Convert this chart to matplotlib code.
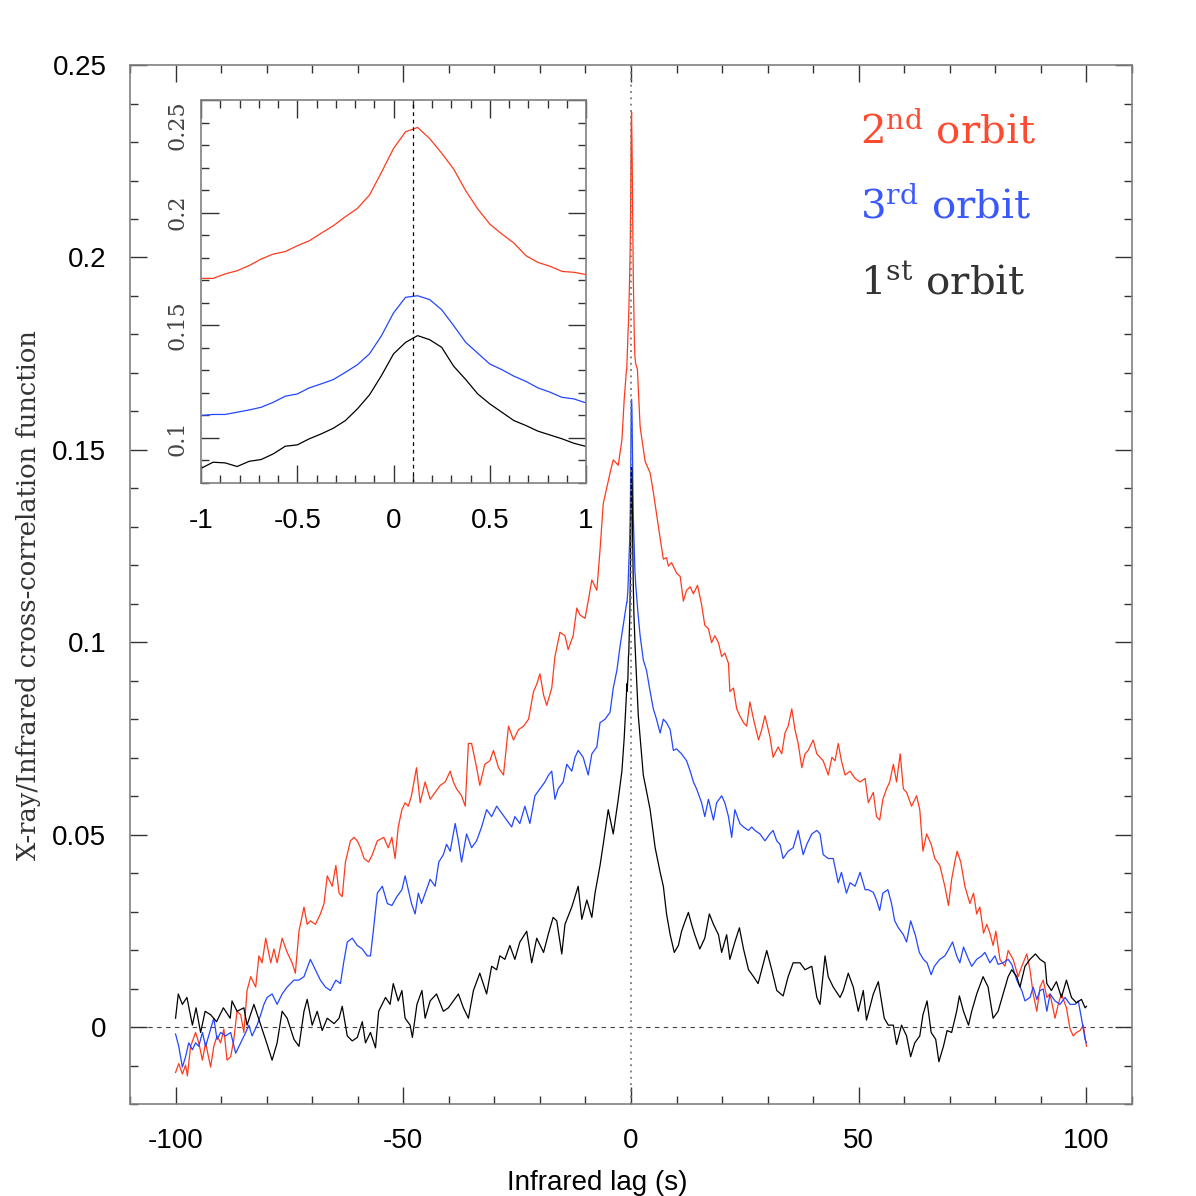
import matplotlib
matplotlib.use('Agg')
import matplotlib.pyplot as plt
from matplotlib.ticker import MultipleLocator, FuncFormatter

plt.rcParams['font.family'] = ['Liberation Sans', 'DejaVu Sans']
plt.rcParams['mathtext.fontset'] = 'dejavuserif'
plt.rcParams['axes.unicode_minus'] = False

# fine-resolution lags around the peak (also shown in the inset)
INSET_LAG = [-1, -0.9375, -0.875, -0.8125, -0.75, -0.6875, -0.625, -0.5625, -0.5,
             -0.4375, -0.375, -0.3125, -0.25, -0.1875, -0.125, -0.0625, 0, 0.0625,
             0.125, 0.1875, 0.25, 0.3125, 0.375, 0.4375, 0.5, 0.5625, 0.625, 0.6875,
             0.75, 0.8125, 0.875, 0.9375, 1]
RED_PEAK = [0.1708, 0.1708, 0.1728, 0.1742, 0.1765, 0.1794, 0.1816, 0.1827, 0.1853,
            0.1875, 0.1909, 0.1942, 0.1982, 0.2019, 0.2078, 0.2179, 0.2285, 0.2359,
            0.2378, 0.2329, 0.2264, 0.2193, 0.2097, 0.2016, 0.1949, 0.1905, 0.1865,
            0.1809, 0.1779, 0.1762, 0.1739, 0.1735, 0.1725]
BLUE_PEAK = [0.1099, 0.1104, 0.1104, 0.1114, 0.1124, 0.1136, 0.1158, 0.1185, 0.1195,
             0.1222, 0.124, 0.1259, 0.1291, 0.1325, 0.1373, 0.1454, 0.1555, 0.1624,
             0.1631, 0.1614, 0.1569, 0.1498, 0.1424, 0.1376, 0.1328, 0.1303, 0.1274,
             0.1251, 0.1222, 0.1203, 0.118, 0.1173, 0.1155]
BLACK_PEAK = [0.0865, 0.0892, 0.0889, 0.0873, 0.0896, 0.0904, 0.0929, 0.0963, 0.0969,
              0.0996, 0.1018, 0.1043, 0.1077, 0.1129, 0.1191, 0.1277, 0.1373, 0.1424,
              0.1454, 0.1436, 0.1402, 0.1318, 0.1259, 0.1195, 0.1151, 0.1114, 0.1077,
              0.1055, 0.103, 0.1013, 0.0996, 0.0976, 0.0962]

# 1st orbit (black)
BLACK_LAG_NEG = [-100, -99.4, -98.5, -97.5, -96.3, -95.5, -94.5, -93.5, -92.3, -91,
                 -89.5, -88, -87.6, -86.5, -85, -84.3, -82.8, -81.3, -80, -78.8,
                 -77.7, -76.6, -75.5, -74, -72.9, -71.8, -71.1, -70, -68.9, -67.8,
                 -66.7, -65.2, -64.1, -63.4, -62.3, -61.2, -60.1, -59, -58.3, -57.2,
                 -56.1, -55.4, -53.9, -52.9, -52.2, -51.1, -50.3, -49.6, -48.5, -48,
                 -47, -45.9, -45.2, -44.1, -42.7, -41.2, -40.1, -39, -37.9, -36.8,
                 -35.7, -34.6, -33.2, -31.7, -30.6, -29.5, -28.8, -27.7, -26.6, -25.5,
                 -24.4, -22.9, -21.8, -20.7, -19.2, -18.1, -17.1, -16.3, -15.2, -14.5,
                 -13, -11.6, -10.8, -9.7, -8.6, -7.9, -6.8, -6.1, -5, -3.9,
                 -2.8, -2, -1.5]
BLACK_NEG = [0.0023, 0.0086, 0.0059, 0.0077, 0.0005, 0.005, -0.0014, 0.0041, 0.0032, 0.0014,
             0.005, 0.0023, 0.0068, 0.0041, 0.005, 0.0005, 0.0059, 0.0005, -0.0041, -0.0086,
             -0.0041, 0.0041, 0.0023, -0.0032, -0.005, 0.0041, 0.0072, 0.0005, 0.0041, -0.0009,
             0.0023, 0.0009, 0.0023, 0.0054, -0.0023, -0.0036, -0.0027, 0.0014, -0.0041, -0.0014,
             -0.0054, 0.0041, 0.0077, 0.0059, 0.0113, 0.0068, 0.0095, 0.0023, 0.0005, -0.0027,
             0.0059, 0.0095, 0.0023, 0.0068, 0.0086, 0.0041, 0.005, 0.0068, 0.0086, 0.005,
             0.0023, 0.0095, 0.014, 0.0086, 0.0158, 0.0149, 0.0185, 0.0176, 0.0212, 0.0176,
             0.0221, 0.0249, 0.0167, 0.0231, 0.0194, 0.0244, 0.0285, 0.0276, 0.019, 0.0267,
             0.0312, 0.0366, 0.028, 0.033, 0.0285, 0.0348, 0.042, 0.0475, 0.0565, 0.0502,
             0.0592, 0.0665, 0.075]
BLACK_LAG_POS = [1.6, 2.7, 4.2, 5.3, 6.4, 7.1, 7.8, 8.6, 9.5, 10.4,
                 11.1, 11.9, 12.6, 13.3, 14, 15.1, 16.2, 17.2, 18.1, 19.2,
                 19.9, 21, 21.7, 22.8, 23.8, 24.7, 25.8, 26.9, 27.9, 28.7,
                 29.8, 30.9, 32, 33.4, 34.5, 35.6, 37.1, 38.2, 39.7, 40.8,
                 41.5, 42.6, 43.3, 44.4, 45.9, 46.6, 47.7, 48.8, 49.9, 51,
                 51.7, 53.2, 54.3, 55.6, 56.5, 57.6, 58.3, 59.4, 60.5, 61.4,
                 62.3, 63.4, 64.1, 65, 65.9, 66.9, 67.6, 68.6, 69.4, 70.4,
                 71.5, 72.1, 73, 74.1, 74.8, 75.9, 77.3, 78.4, 79.5, 80.6,
                 81.7, 82.8, 83.6, 84.7, 85.4, 86.5, 87.6, 88.8, 89.8, 90.9,
                 91.3, 92.3, 93.4, 94.5, 95.6, 96.7, 97.8, 98.9, 99.7, 100]
BLACK_POS = [0.0809, 0.0655, 0.0565, 0.0466, 0.0402, 0.0366, 0.0294, 0.024, 0.0194, 0.0212,
             0.0249, 0.0276, 0.0298, 0.0267, 0.024, 0.0203, 0.0231, 0.0294, 0.0267, 0.024,
             0.0194, 0.024, 0.0176, 0.0221, 0.0258, 0.0203, 0.0149, 0.0131, 0.0113, 0.0149,
             0.0199, 0.0149, 0.0095, 0.0081, 0.0131, 0.0167, 0.0167, 0.0149, 0.0158, 0.0077,
             0.0059, 0.0185, 0.0131, 0.0104, 0.0077, 0.0095, 0.014, 0.0104, 0.0041, 0.0095,
             0.0018, 0.0086, 0.0118, 0.0023, 0.0005, 0.0005, -0.0045, 0.0005, -0.0023, -0.0077,
             -0.0041, -0.0023, 0.0032, 0.0068, -0.0014, -0.0032, -0.009, -0.005, -0.0009, -0.0014,
             0.0041, 0.0081, 0.0041, 0.0005, 0.0041, 0.0086, 0.0131, 0.0104, 0.0023, 0.0041,
             0.0086, 0.0131, 0.0149, 0.0131, 0.0104, 0.0158, 0.0176, 0.019, 0.0176, 0.0167,
             0.0113, 0.0095, 0.0118, 0.0077, 0.0122, 0.0077, 0.0063, 0.0072, 0.005, 0.0054]

# 2nd orbit (red)
RED_LAG_NEG = [-100, -99.3, -98.5, -97.8, -97.4, -96.7, -95.6, -94.9, -94.1, -93.4,
               -92.3, -91.6, -90.9, -90.1, -89.4, -88.7, -87.9, -87.2, -86.5, -85.7,
               -85, -84.3, -83.5, -82.4, -81.7, -81, -80.2, -79.1, -78.4, -77.7,
               -76.6, -75.5, -74.4, -73.7, -72.9, -71.8, -71.1, -70.4, -69.3, -68.2,
               -67.4, -66.7, -65.6, -64.8, -64.1, -63.4, -62.7, -61.6, -60.8, -60.1,
               -59.4, -58.6, -57.6, -56.8, -55.7, -54.3, -53.3, -52.5, -51.8, -51.1,
               -50.3, -49.6, -48.9, -48.2, -47.1, -46.3, -45.2, -44.1, -43, -41.9,
               -40.8, -39.7, -39, -38.3, -37.2, -36.4, -35.7, -35, -33.9, -33.2,
               -32.1, -31, -30.2, -29.1, -28, -26.9, -25.8, -24.7, -23.6, -22.5,
               -21.4, -20.7, -20, -19.2, -18.5, -17.4, -16.7, -15.6, -14.5, -13.8,
               -12.7, -11.9, -11.2, -10.1, -9.4, -8.6, -7.5, -6.8, -6.1, -4.6,
               -3.9, -2.8, -2, -1.5]
RED_NEG = [-0.0118, -0.0095, -0.0122, -0.0099, -0.0127, -0.005, -0.0014, -0.0041, -0.0086, -0.0041,
           -0.0104, -0.005, -0.0023, -0.0041, -0.0005, -0.0086, -0.0077, -0.0032, 0.0041, 0.0032,
           -0.0014, 0.0095, 0.0131, 0.0104, 0.0185, 0.0167, 0.0231, 0.0167, 0.0203, 0.0167,
           0.0231, 0.0194, 0.0167, 0.014, 0.0249, 0.0312, 0.0267, 0.0276, 0.0267, 0.0294,
           0.0321, 0.0393, 0.0366, 0.042, 0.0348, 0.0339, 0.0429, 0.0484, 0.0493, 0.0484,
           0.0466, 0.0438, 0.0429, 0.0448, 0.0484, 0.0493, 0.0466, 0.0493, 0.0438, 0.052,
           0.0565, 0.0583, 0.0574, 0.0601, 0.0674, 0.0583, 0.0637, 0.0592, 0.061, 0.0628,
           0.0637, 0.0665, 0.0637, 0.0619, 0.0601, 0.0574, 0.0737, 0.0737, 0.0674, 0.0628,
           0.0683, 0.0692, 0.0719, 0.0674, 0.0655, 0.0782, 0.0746, 0.0773, 0.0782, 0.08,
           0.0872, 0.0891, 0.0918, 0.0863, 0.0836, 0.0881, 0.0963, 0.1026, 0.1017, 0.0981,
           0.1017, 0.1089, 0.1071, 0.1062, 0.1107, 0.1162, 0.1135, 0.124, 0.136, 0.144,
           0.1474, 0.146, 0.1526, 0.163]
RED_LAG_POS = [1.4, 2, 3.1, 4.2, 4.9, 6.4, 7.1, 7.8, 8.2, 8.9,
               10, 10.8, 11.5, 12.2, 13, 13.7, 14.6, 15.5, 16.2, 17,
               17.7, 18.4, 19.2, 19.9, 20.6, 21.4, 21.7, 22.5, 23.2, 23.9,
               24.7, 25.4, 26.1, 26.9, 28, 28.7, 29.4, 30.5, 31.2, 32.3,
               33.1, 33.8, 34.5, 35.3, 36, 36.7, 37.5, 38.2, 38.9, 40,
               40.8, 41.5, 42.2, 43.3, 44.1, 44.8, 45.5, 46.2, 47, 48.1,
               49.2, 50.3, 51.4, 52.1, 53.2, 53.9, 54.6, 55.3, 56.1, 56.8,
               57.6, 58.3, 59.1, 59.8, 60.5, 61.6, 62.7, 63.4, 64.1, 64.9,
               65.9, 66.7, 67.8, 68.9, 69.7, 70.4, 71.1, 71.6, 72.4, 73.3,
               74.4, 75.2, 75.9, 76.6, 77.4, 78.1, 78.8, 79.5, 80.1, 81,
               82.1, 82.8, 83.9, 85, 85.8, 86.9, 87.6, 88.3, 89.1, 89.8,
               90.5, 91.3, 92, 93.1, 93.8, 94.5, 95.6, 96.4, 97.1, 97.8,
               98.6, 99.3, 100]
RED_POS = [0.171, 0.156, 0.147, 0.144, 0.139, 0.127, 0.1216, 0.122, 0.1198, 0.1207,
           0.118, 0.1171, 0.1107, 0.1135, 0.1144, 0.1126, 0.1148, 0.1098, 0.1044, 0.1035,
           0.0999, 0.1017, 0.0999, 0.0963, 0.0972, 0.0945, 0.0872, 0.0881, 0.0827, 0.0809,
           0.0791, 0.0782, 0.0845, 0.08, 0.0746, 0.0773, 0.0809, 0.0755, 0.0701, 0.0728,
           0.071, 0.0764, 0.0782, 0.0827, 0.0773, 0.0737, 0.0674, 0.071, 0.0719, 0.0746,
           0.071, 0.0701, 0.0692, 0.0655, 0.0701, 0.0692, 0.0737, 0.0692, 0.0655, 0.0665,
           0.0646, 0.0637, 0.0646, 0.0583, 0.061, 0.0547, 0.0538, 0.0592, 0.0619, 0.0637,
           0.0683, 0.0637, 0.071, 0.0619, 0.061, 0.0574, 0.0601, 0.0565, 0.0457, 0.0502,
           0.0475, 0.0438, 0.042, 0.0366, 0.0316, 0.0384, 0.0429, 0.0457, 0.0429, 0.0366,
           0.0321, 0.0348, 0.0294, 0.0312, 0.0244, 0.0267, 0.0244, 0.0212, 0.0249, 0.0176,
           0.0158, 0.0199, 0.0176, 0.0131, 0.0158, 0.019, 0.0149, 0.0086, 0.0041, 0.0104,
           0.0122, 0.0077, 0.0086, 0.0023, 0.0059, 0.0086, 0.005, -0.0005, -0.0023, -0.0014,
           -0.0009, 0.0005, -0.005]

# 3rd orbit (blue)
BLUE_LAG_NEG = [-100, -99.3, -98.5, -97.8, -97.1, -96.3, -95.6, -94.9, -94.1, -93.4,
                -92.3, -91.6, -90.9, -90.1, -89, -87.9, -86.8, -85.7, -84.6, -83.9,
                -83.2, -82.1, -81.3, -80.6, -79.9, -78.8, -77.7, -76.6, -75.5, -74,
                -72.9, -71.8, -70.4, -69.3, -68.2, -67.1, -66, -64.8, -63.8, -63.1,
                -62.3, -61.2, -60.1, -59, -57.9, -57.2, -56.5, -55.7, -54.6, -53.5,
                -52.5, -51.4, -50.3, -49.6, -48.9, -48.2, -47.4, -46.7, -46, -44.9,
                -44.1, -43, -42.2, -41.2, -40.5, -39.7, -38.6, -37.9, -37.2, -36.1,
                -35, -33.9, -32.8, -31.7, -30.6, -29.5, -28.4, -27.3, -26.2, -25.5,
                -24.4, -23.3, -22.2, -21.1, -20, -18.9, -18.1, -17.4, -16.7, -16,
                -14.9, -14.1, -13, -12.3, -11.6, -10.5, -9.4, -8.6, -7.5, -6.8,
                -5.7, -4.6, -3.9, -3.1, -2.4, -1.7]
BLUE_NEG = [-0.0018, -0.005, -0.0104, -0.0077, -0.0041, -0.0059, -0.0041, -0.005, -0.0014, -0.005,
            -0.0005, 0.0023, -0.0032, -0.0014, -0.0023, -0.0014, -0.0068, -0.0041, -0.0014, 0.0005,
            -0.0023, 0.0005, 0.0032, 0.0059, 0.0077, 0.0086, 0.0059, 0.0086, 0.0104, 0.0122,
            0.0122, 0.0131, 0.0176, 0.0149, 0.0122, 0.0104, 0.0095, 0.0122, 0.0113, 0.0167,
            0.0221, 0.0231, 0.0212, 0.0203, 0.0185, 0.0185, 0.0258, 0.0348, 0.0366, 0.0321,
            0.0316, 0.0339, 0.0357, 0.0393, 0.0357, 0.0321, 0.0294, 0.0348, 0.0321, 0.0357,
            0.0384, 0.0366, 0.0429, 0.0448, 0.0475, 0.0457, 0.0529, 0.0484, 0.0429, 0.0502,
            0.0466, 0.0484, 0.052, 0.0565, 0.0547, 0.0574, 0.0556, 0.0538, 0.052, 0.0547,
            0.0529, 0.0574, 0.0529, 0.0601, 0.0619, 0.0637, 0.0655, 0.0665, 0.0592, 0.0619,
            0.0637, 0.0683, 0.0665, 0.0701, 0.0719, 0.0701, 0.0655, 0.071, 0.0728, 0.0791,
            0.08, 0.0818, 0.0881, 0.0927, 0.099, 0.1044]
BLUE_LAG_POS = [1.5, 2, 2.7, 3.4, 4.2, 4.9, 5.6, 6.4, 7.1, 7.8,
                8.6, 9.3, 10, 11.1, 12.2, 13, 13.7, 14.4, 15.5, 16.2,
                17, 18.1, 18.8, 19.9, 20.6, 21.4, 22.1, 22.8, 23.9, 24.7,
                25.8, 26.5, 27.2, 28.3, 29.4, 30.5, 31.2, 32, 32.7, 33.4,
                34.5, 35.6, 36.7, 37.8, 38.6, 39.7, 40.8, 41.5, 42.2, 43.3,
                44.4, 45.5, 46.2, 47.3, 48.1, 49.2, 50.3, 51.4, 52.1, 53.2,
                53.9, 54.6, 55.3, 56.4, 57.2, 57.9, 58.7, 59.8, 60.5, 61.4,
                62.4, 63.3, 64.2, 65, 65.9, 66.6, 67.8, 68.9, 69.6, 70.6,
                71.5, 72.2, 73, 74.1, 74.8, 75.9, 77, 77.7, 78.8, 79.9,
                80.6, 81.7, 82.8, 83.6, 84.7, 85.8, 86.5, 87.6, 88.3, 89.1,
                89.8, 90.5, 91.3, 92, 93.1, 94.2, 95.3, 96.4, 97.5, 98.2,
                98.9, 99.7, 100]
BLUE_POS = [0.108, 0.1017, 0.0954, 0.0927, 0.0872, 0.0827, 0.08, 0.0764, 0.08, 0.0791,
            0.0773, 0.0719, 0.0723, 0.071, 0.0692, 0.0665, 0.0637, 0.0619, 0.0583, 0.0547,
            0.0592, 0.0538, 0.0583, 0.0601, 0.0583, 0.0547, 0.0493, 0.0565, 0.0529, 0.052,
            0.0511, 0.052, 0.0511, 0.0502, 0.0484, 0.0502, 0.0511, 0.0484, 0.0475, 0.0438,
            0.0457, 0.0466, 0.0511, 0.0448, 0.0475, 0.0502, 0.0511, 0.0502, 0.0448, 0.0438,
            0.0438, 0.0375, 0.0402, 0.0348, 0.0375, 0.0366, 0.0402, 0.0357, 0.0357, 0.035,
            0.033, 0.0303, 0.0348, 0.0357, 0.0321, 0.0276, 0.0258, 0.024, 0.0221, 0.0276,
            0.024, 0.0194, 0.0176, 0.0167, 0.0136, 0.0158, 0.0176, 0.0185, 0.0199, 0.0221,
            0.0185, 0.0167, 0.0208, 0.0176, 0.0158, 0.0176, 0.0185, 0.0194, 0.0167, 0.0185,
            0.0163, 0.0167, 0.0176, 0.0163, 0.0122, 0.0095, 0.0068, 0.0077, 0.0104, 0.0072,
            0.0095, 0.0099, 0.0041, 0.0086, 0.0068, 0.0059, 0.0077, 0.0059, 0.0059, 0.0068,
            0.0023, -0.0032, -0.0041]

RED = '#ff3a1c'
BLUE = '#2346ff'
BLACK = '#000000'

SERIES = [
    ('2', 'nd', RED, '#ff4a30', RED_LAG_NEG, RED_NEG, RED_PEAK, RED_LAG_POS, RED_POS),
    ('3', 'rd', BLUE, '#3a58ff', BLUE_LAG_NEG, BLUE_NEG, BLUE_PEAK, BLUE_LAG_POS, BLUE_POS),
    ('1', 'st', BLACK, '#333333', BLACK_LAG_NEG, BLACK_NEG, BLACK_PEAK, BLACK_LAG_POS, BLACK_POS),
]
LABEL_Y = [0.2298, 0.2103, 0.1903]


def frame(ax, major, minor):
    for s in ax.spines.values():
        s.set_color('#808080')
        s.set_linewidth(1.2)
    ax.tick_params(which='both', direction='in', top=True, right=True,
                   color='#333333', width=1)
    ax.tick_params(which='major', length=major)
    ax.tick_params(which='minor', length=minor)


def main():
    fig = plt.figure(figsize=(11.96, 11.96), dpi=100)
    ax = fig.add_axes([0.1087, 0.0769, 0.8378, 0.8687])

    for n, sup, col, tcol, lneg, vneg, vpeak, lpos, vpos in SERIES:
        lag = lneg + INSET_LAG + lpos
        val = vneg + vpeak + vpos
        ax.plot(lag, val, color=col, lw=0.9, zorder=3 if col == BLACK else 2)

    for (n, sup, col, tcol, *_), y in zip(SERIES, LABEL_Y):
        ax.text(50.3, y, r'$%s^{\mathrm{%s}}$ orbit' % (n, sup), color=tcol,
                fontsize=29, family='DejaVu Serif', va='baseline', ha='left')

    ax.axhline(0, color='#444444', lw=0.8, ls=(0, (4, 4)), zorder=1)
    ax.axvline(0, color='#777777', lw=1.3, ls=(0, (1, 2.5)), zorder=4)

    ax.set_xlim(-110, 110)
    ax.set_ylim(-0.02, 0.25)
    ax.xaxis.set_major_locator(MultipleLocator(50))
    ax.xaxis.set_minor_locator(MultipleLocator(10))
    ax.yaxis.set_major_locator(MultipleLocator(0.05))
    ax.yaxis.set_minor_locator(MultipleLocator(0.01))
    ax.yaxis.set_major_formatter(FuncFormatter(lambda v, p: '%g' % round(v, 3)))
    frame(ax, 12, 6)
    ax.tick_params(axis='x', pad=17, labelsize=20)
    ax.tick_params(axis='y', pad=17, labelsize=20)

    ax.set_xlabel('Infrared lag (s)', fontsize=20, labelpad=12)
    ax.xaxis.label.set_x(0.466)
    ax.set_ylabel('X-ray/Infrared cross-correlation function', fontsize=18.5,
                  family='DejaVu Serif', color='#333333')
    ax.yaxis.set_label_coords(-0.089, 0.49)

    # inset zoom on the peak
    axi = fig.add_axes([0.1681, 0.5962, 0.3219, 0.3202])
    for n, sup, col, tcol, lneg, vneg, vpeak, lpos, vpos in SERIES:
        axi.plot(INSET_LAG, vpeak, color=col, lw=0.9)
    axi.axvline(0.1, color='black', lw=0.9, ls=(0, (3, 3)))
    axi.set_xlim(-1, 1)
    axi.set_ylim(0.08, 0.25)
    axi.xaxis.set_major_locator(MultipleLocator(0.5))
    axi.xaxis.set_minor_locator(MultipleLocator(0.1))
    axi.yaxis.set_minor_locator(MultipleLocator(0.01))
    axi.set_yticks([0.1, 0.15, 0.2, 0.25])
    labels = axi.set_yticklabels(['0.1', '0.15', '0.2', '0.25'], rotation=90,
                                 family='DejaVu Serif', fontsize=16, color='#444444',
                                 va='center')
    labels[-1].set_va('top')
    axi.xaxis.set_major_formatter(FuncFormatter(lambda v, p: '%g' % v))
    frame(axi, 13, 6)
    axi.tick_params(axis='x', pad=18, labelsize=20)
    axi.tick_params(axis='y', pad=9)

    fig.savefig('out.png', dpi=100)
    plt.close(fig)


if __name__ == '__main__':
    main()
